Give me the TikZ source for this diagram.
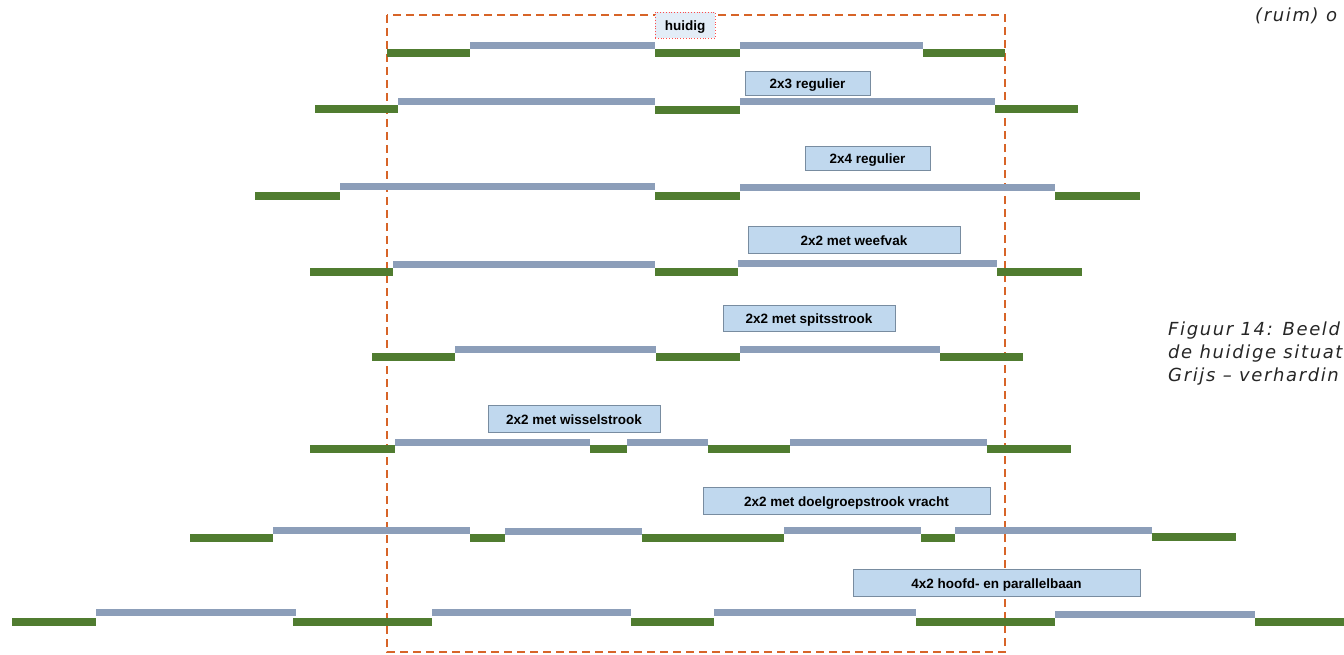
\documentclass[tikz,border=0pt]{standalone}
\usepackage{fontspec}
\setmainfont{DejaVu Sans}
\newfontfamily\lblfont{Liberation Sans}
\newfontfamily\captfont[LetterSpace=9]{DejaVu Sans}
\begin{document}
\begin{tikzpicture}[x=1pt,y=-1pt,
  gr/.style={line width=8pt,draw=grn,line cap=butt},
  gy/.style={line width=7pt,draw=gry,line cap=butt},
  lbl/.style={draw=lblborder,fill=lblfill,line width=0.8pt,inner sep=0pt,
     text height=11pt,text depth=0pt,
     font=\lblfont\bfseries\fontsize{13.5}{15}\selectfont,text=black},
  capt/.style={anchor=west,inner sep=0pt,font=\captfont\itshape\fontsize{18}{20}\selectfont,text=black!85}]
\definecolor{grn}{RGB}{80,124,48}
\definecolor{gry}{RGB}{140,158,185}
\definecolor{lblfill}{RGB}{192,216,238}
\definecolor{lblborder}{RGB}{120,140,160}
\definecolor{orng}{RGB}{215,100,40}
\useasboundingbox (0,0) rectangle (1344,655);
\clip (0,0) rectangle (1344,655);
% dashed outline of the current profile
\draw[orng,line width=2pt,dash pattern=on 8pt off 5pt] (387,15) rectangle (1005,652);
% row 1 huidig
\draw[gr] (387,53)--(470,53); \draw[gy] (470,46)--(655,46);
\draw[gr] (655,53)--(740,53); \draw[gy] (740,46)--(923,46);
\draw[gr] (923,53)--(1005,53);
\node[lbl,draw=red!70,dotted,fill=lblfill!45,minimum width=60pt,minimum height=26pt] (l1) at (685,25) {huidig};
% row 2
\draw[gr] (315,109)--(398,109); \draw[gy] (398,102)--(655,102);
\draw[gr] (655,110)--(740,110); \draw[gy] (740,102)--(995,102);
\draw[gr] (995,109)--(1078,109);
\node[lbl,minimum width=125pt,minimum height=24pt] (l2) at (807.5,83) {2x3 regulier};
% row 3
\draw[gr] (255,196)--(340,196); \draw[gy] (340,187)--(655,187);
\draw[gr] (655,196)--(740,196); \draw[gy] (740,188)--(1055,188);
\draw[gr] (1055,196)--(1140,196);
\node[lbl,minimum width=125pt,minimum height=24pt] (l3) at (867.5,158) {2x4 regulier};
% row 4
\draw[gr] (310,272)--(393,272); \draw[gy] (393,264)--(655,264);
\draw[gr] (655,272)--(738,272); \draw[gy] (738,263)--(997,263);
\draw[gr] (997,272)--(1082,272);
\node[lbl,minimum width=212pt,minimum height=27pt] (l4) at (854,239.5) {2x2 met weefvak};
% row 5
\draw[gr] (372,357)--(455,357); \draw[gy] (455,349)--(656,349);
\draw[gr] (656,357)--(740,357); \draw[gy] (740,349)--(940,349);
\draw[gr] (940,357)--(1023,357);
\node[lbl,minimum width=172pt,minimum height=26pt] (l5) at (809,318) {2x2 met spitsstrook};
% row 6
\draw[gr] (310,449)--(395,449); \draw[gy] (395,442)--(590,442);
\draw[gr] (590,449)--(627,449); \draw[gy] (627,442)--(708,442);
\draw[gr] (708,449)--(790,449); \draw[gy] (790,442)--(987,442);
\draw[gr] (987,449)--(1071,449);
\node[lbl,minimum width=172pt,minimum height=27pt] (l6) at (574,418.5) {2x2 met wisselstrook};
% row 7
\draw[gr] (190,538)--(273,538); \draw[gy] (273,530)--(470,530);
\draw[gr] (470,538)--(505,538); \draw[gy] (505,531)--(642,531);
\draw[gr] (642,538)--(784,538); \draw[gy] (784,530)--(921,530);
\draw[gr] (921,538)--(955,538); \draw[gy] (955,530)--(1152,530);
\draw[gr] (1152,537)--(1236,537);
\node[lbl,minimum width=287pt,minimum height=27pt] (l7) at (846.5,500.5) {2x2 met doelgroepstrook vracht};
% row 8
\draw[gr] (12,622)--(96,622); \draw[gy] (96,612)--(296,612);
\draw[gr] (293,622)--(432,622); \draw[gy] (432,612)--(631,612);
\draw[gr] (631,622)--(714,622); \draw[gy] (714,612)--(916,612);
\draw[gr] (916,622)--(1055,622); \draw[gy] (1055,614)--(1255,614);
\draw[gr] (1255,622)--(1344,622);
\node[lbl,minimum width=287pt,minimum height=27pt] (l8) at (996.5,582.5) {4x2 hoofd- en parallelbaan};
% caption fragments (cut off at the right edge)
\node[capt] (c0) at (1255,16) {(ruim) o};
\node[capt] (c1) at (1168,331) {Figuur 14: Beeld};
\node[capt] (c2) at (1168,354) {de huidige situat};
\node[capt] (c3) at (1168,377) {Grijs – verhardin};
\end{tikzpicture}
\end{document}
